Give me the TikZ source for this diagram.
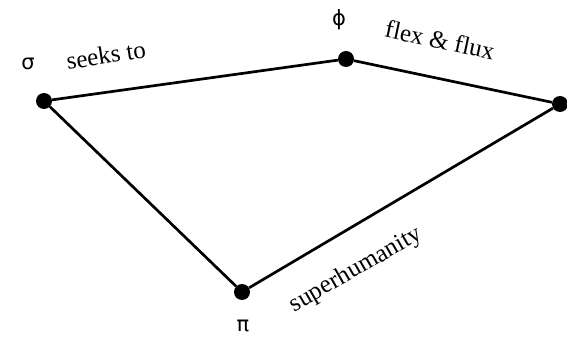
\documentclass[tikz,border=0pt]{standalone}
\usepackage{fontspec}
\setmainfont{Liberation Serif}
\newfontfamily\greekfont{DejaVu Sans}
\begin{document}
\begin{tikzpicture}[x=1pt,y=1pt,
  dot/.style={circle,fill=black,inner sep=0pt,minimum size=16pt},
  greek/.style={font=\greekfont\fontsize{21}{21}\selectfont},
  word/.style={font=\rmfamily\fontsize{25}{25}\selectfont}]
\useasboundingbox (0,0) rectangle (567,340);
%vertices
\node[dot] (sigma) at (44,239) {};
\node[dot] (phi) at (346,281) {};
\node[dot] (east) at (560,236) {};
\node[dot] (pi) at (242,48) {};
%edges
\draw[line width=2.7pt] (sigma) -- (phi) -- (east) -- (pi) -- (sigma);
%labels
\node[greek] (sigmalabel) at (28,276) {σ};
\node[greek] (philabel) at (339,320) {ϕ};
\node[greek] (pilabel) at (243,14) {π};
\node[word, rotate=9] (seeks) at (106,285) {seeks to};
\node[word, rotate=-12] (flex) at (440,300) {flex \& flux};
\node[word, rotate=30] (super) at (356,70) {superhumanity};
\end{tikzpicture}
\end{document}
